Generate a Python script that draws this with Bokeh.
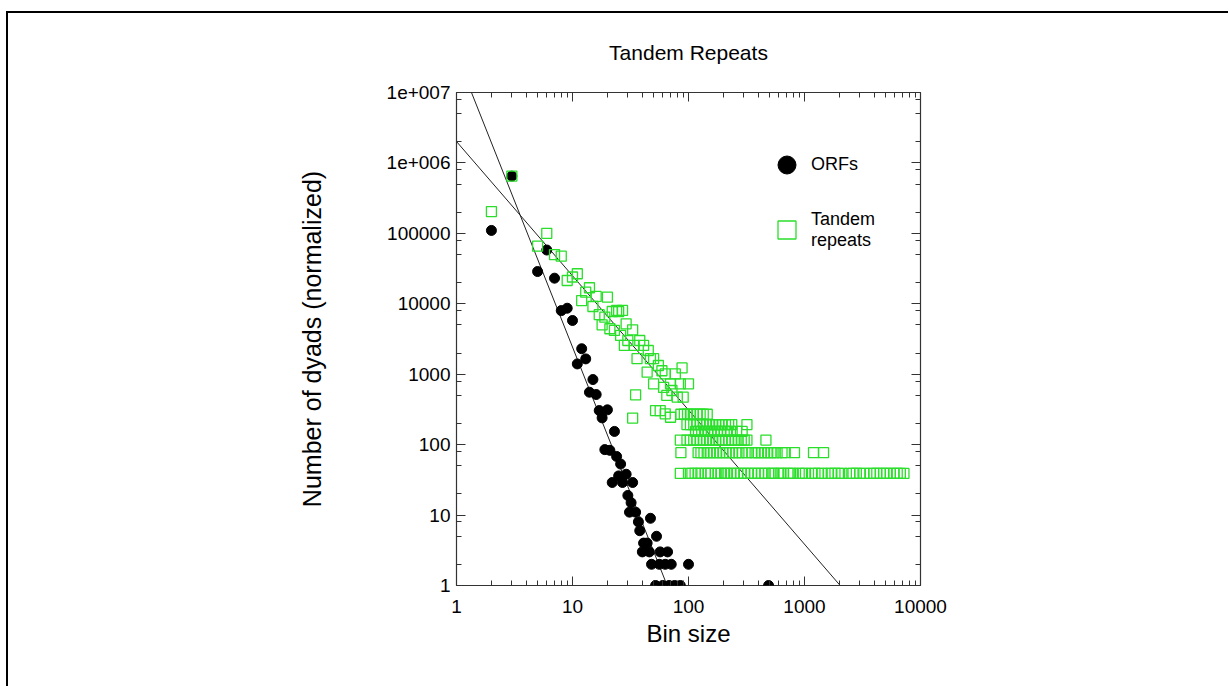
import numpy as np
from bokeh.plotting import figure
from bokeh.models import (LogAxis, FixedTicker, Legend, LegendItem, Range1d)
from bokeh.embed import file_html
from bokeh.resources import INLINE

TITLE = "Tandem Repeats"
X_LABEL = "Bin size"
Y_LABEL = "Number of dyads (normalized)"
ORF_LABEL = "ORFs"
TANDEM_LABEL = "Tandem\nrepeats"

# ---- ORFs (filled black circles) ----
orf_x = [2, 3, 5, 6, 7, 8, 9, 10, 11, 12, 13, 14, 15, 16, 17, 18, 19, 20, 21, 22,
         23, 24, 25, 26, 27, 29, 30, 31, 32, 33, 35, 37, 38, 40, 41, 44, 46, 47, 48,
         52, 53, 56, 57, 60, 63, 66, 68, 71, 76, 85, 100, 490]
orf_y = [110000, 650000, 28700, 58000, 23100, 8000, 8650, 5790, 1400, 2300, 1650,
         555, 840, 515, 305, 240, 85, 312, 83, 29, 154, 68, 36, 53, 29, 38, 19, 11,
         15, 29, 11, 8, 6, 3, 4, 4, 3, 9, 2, 1, 5, 2, 3, 1, 2, 3, 1, 2, 1, 1, 2, 1]

# ---- Tandem repeats (open green squares) ----
tandem_upper_x = [2, 3, 5, 6, 7, 8, 9, 10, 11, 12, 13, 14, 15, 16, 17, 18, 19, 20,
                  21, 22, 23, 24, 25, 26, 27, 28, 29, 30, 33, 33, 34, 35, 36, 38,
                  41, 44, 45, 47, 50, 50, 52, 55, 57, 59, 61, 63, 63, 65, 70, 70,
                  72, 77, 80, 85, 88, 90, 100]
tandem_upper_y = [204000, 650000, 65700, 100000, 50000, 47400, 21400, 24000, 26700,
                  11100, 14600, 16900, 9150, 12700, 7000, 5030, 6450, 12400, 4420,
                  7770, 4180, 8040, 7770, 3550, 8040, 2560, 5200, 3010, 4270, 238,
                  2560, 510, 1660, 3010, 2560, 1070, 2170, 1660, 1660, 730, 305,
                  1330, 305, 1120, 650, 1010, 274, 500, 730, 245, 587, 1010, 472,
                  730, 1230, 472, 730]

row7_x = [86, 92, 98, 104, 110, 118, 126, 134, 145]
row7_y = [270, 270, 270, 270, 270, 270, 270, 270, 270]
row5_x = [97, 104, 111, 118, 126, 134, 143, 152, 162, 172, 183, 195, 208, 222, 236, 319]
row5_y = [193] * 16
row4_x = [115, 122, 130, 138, 147, 157, 167, 178, 190, 203, 216, 230, 260, 290]
row4_y = [154] * 14
row3_x = [85, 97, 104, 111, 118, 126, 134, 143, 152, 162, 172, 183, 195, 208, 222,
          236, 252, 268, 285, 302, 319, 465]
row3_y = [116] * 22
row2_x = [86, 121, 128, 136, 145, 154, 164, 175, 186, 198, 211, 225, 240, 256, 272,
          290, 319, 352, 375, 400, 425, 452, 482, 513, 545, 580, 640, 682, 820, 1196,
          1459]
row2_y = [77] * 31
row1_x = [85, 100, 107, 114, 121, 128, 140, 148, 156, 170, 180, 192, 205, 214, 230,
          246, 264, 283, 303, 325, 348, 373, 400, 428, 458, 491, 526, 545, 600, 625,
          660, 720, 760, 800, 900, 960, 1020, 1150, 1230, 1320, 1420, 1600, 1700, 1830,
          1960, 2100, 2450, 2620, 2800, 3000, 3250, 3700, 3950, 4200, 4500, 4800, 5100,
          5500, 5900, 6300, 6700, 7200]
row1_y = [39] * 62

tandem_x = tandem_upper_x + row7_x + row5_x + row4_x + row3_x + row2_x + row1_x
tandem_y = tandem_upper_y + row7_y + row5_y + row4_y + row3_y + row2_y + row1_y

# ---- power-law fits: log10(y) = a + b*log10(x) ----
orf_fit_a, orf_fit_b = 7.536, -4.15
tandem_fit_a, tandem_fit_b = 6.304, -1.906
fit_x = [1, 10000]

# ---- axes ----
x_major = [1, 10, 100, 1000, 10000]
x_major_labels = ["1", "10", "100", "1000", "10000"]
x_minor_mult = [2, 3, 4, 5, 6, 7, 8, 9]
y_major = [1, 10, 100, 1000, 10000, 100000, 1000000, 10000000]
y_major_labels = ["1", "10", "100", "1000", "10000", "100000", "1e+006", "1e+007"]
y_minor_mult = [2, 5, 8]

FONT = "Liberation Sans"
GREEN = "#2adf2a"
AXC = "#333333"

x_minor = [d * m for d in x_major[:-1] for m in x_minor_mult]
y_minor = [d * m for d in y_major[:-1] for m in y_minor_mult]

# the page frame (border top/left) sits at x=6, y=11 and is 2px wide
p = figure(width=1222, height=675, x_axis_type="log", y_axis_type="log",
           x_range=Range1d(1, 10000), y_range=Range1d(1, 1e7),
           output_backend="svg", toolbar_location=None, title=TITLE,
           min_border_left=448, min_border_right=310, min_border_top=79,
           min_border_bottom=103,
           styles={"border-top": "2px solid black", "border-left": "2px solid black",
                   "margin-left": "6px", "margin-top": "11px"})
p.background_fill_color = "white"
p.border_fill_color = "white"
p.outline_line_color = AXC
p.outline_line_width = 1.2
p.xgrid.visible = False
p.ygrid.visible = False

p.title.text_font = FONT
p.title.text_font_size = "21px"
p.title.text_font_style = "normal"
p.title.text_color = "black"
p.title.align = "center"
p.title.vertical_align = "top"
p.title.standoff = 53

xt = FixedTicker(ticks=x_major, minor_ticks=x_minor)
yt = FixedTicker(ticks=y_major, minor_ticks=y_minor)


def style_axis(ax, show_labels):
    ax.axis_line_color = None
    ax.major_tick_in = 9
    ax.major_tick_out = 0
    ax.minor_tick_in = 5
    ax.minor_tick_out = 0
    ax.major_tick_line_color = AXC
    ax.minor_tick_line_color = AXC
    ax.major_label_text_font = FONT
    ax.major_label_text_color = "black"
    ax.axis_label_text_font = FONT
    ax.axis_label_text_font_style = "normal"
    ax.axis_label_text_color = "black"
    if not show_labels:
        ax.major_label_text_font_size = "4px"
        ax.major_label_text_alpha = 0
        ax.major_label_standoff = 0


xa = p.xaxis[0]
xa.ticker = xt
style_axis(xa, True)
xa.major_label_overrides = dict(zip(x_major, x_major_labels))
xa.major_label_text_font_size = "19px"
xa.major_label_standoff = 14
xa.axis_label = X_LABEL
xa.axis_label_text_font_size = "24px"
xa.axis_label_standoff = 4

ya = p.yaxis[0]
ya.ticker = yt
style_axis(ya, True)
ya.major_label_overrides = dict(zip(y_major, y_major_labels))
ya.major_label_text_font_size = "19px"
ya.major_label_standoff = 6
ya.axis_label = Y_LABEL
ya.axis_label_text_font_size = "25px"
ya.axis_label_standoff = 58

top_ax = LogAxis(ticker=FixedTicker(ticks=x_major, minor_ticks=x_minor))
style_axis(top_ax, False)
p.add_layout(top_ax, "above")
right_ax = LogAxis(ticker=FixedTicker(ticks=y_major, minor_ticks=y_minor))
style_axis(right_ax, False)
p.add_layout(right_ax, "right")

# fit lines
orf_fit_y = [10 ** (orf_fit_a + orf_fit_b * np.log10(x)) for x in fit_x]
tan_fit_y = [10 ** (tandem_fit_a + tandem_fit_b * np.log10(x)) for x in fit_x]
p.line(fit_x, orf_fit_y, line_color="#222222", line_width=1)
p.line(fit_x, tan_fit_y, line_color="#222222", line_width=1)

r_orf = p.scatter(orf_x, orf_y, marker="circle", size=10, fill_color="black",
                  line_color="black")
r_tan = p.scatter(tandem_x, tandem_y, marker="square", size=10, fill_color=None,
                  line_color=GREEN, line_width=1.3)

legend = Legend(items=[LegendItem(label=ORF_LABEL, renderers=[r_orf]),
                       LegendItem(label=TANDEM_LABEL, renderers=[r_tan])],
                location=(308, 333), glyph_width=45, glyph_height=45,
                label_standoff=2, spacing=20, padding=0, margin=0,
                border_line_alpha=0, background_fill_alpha=0,
                label_text_font=FONT, label_text_font_size="18px",
                label_text_color="black", label_text_line_height=1.5)
p.add_layout(legend)

open("out.html", "w").write(file_html(p, INLINE))
